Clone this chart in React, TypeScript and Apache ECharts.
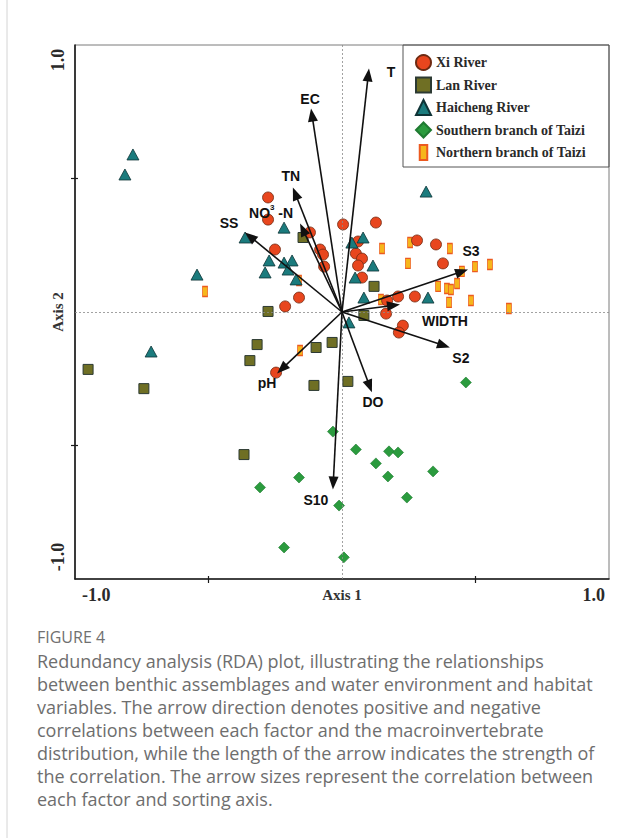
import React, { useEffect, useRef } from "react";
import * as echarts from "echarts";

// ---- Data ----
const xiX = [-0.277, -0.277, -0.12, -0.251, -0.082, -0.071, -0.067, -0.161, -0.213, 0.004, 0.127, 0.281, 0.352, 0.06, 0.052, 0.075, 0.06, 0.075, 0.378, 0.169, 0.21, 0.273, 0.165, 0.228, 0.213, -0.247];
const xiY = [0.429, 0.346, 0.298, 0.234, 0.234, 0.215, 0.17, 0.054, 0.021, 0.328, 0.335, 0.268, 0.253, 0.264, 0.219, 0.2, 0.174, 0.129, 0.182, 0.043, 0.058, 0.058, -0.006, -0.051, -0.077, -0.227];

const lanX = [-0.146, -0.277, 0.12, 0.082, -0.318, -0.345, -0.097, -0.037, -0.105, 0.022, -0.951, -0.742, -0.367];
const lanY = [0.279, 0.002, 0.096, -0.013, -0.122, -0.182, -0.133, -0.114, -0.275, -0.26, -0.215, -0.287, -0.534];

const haiX = [-0.783, -0.813, -0.543, -0.715, -0.217, -0.363, -0.273, -0.217, -0.187, -0.288, -0.202, -0.172, 0.315, 0.037, 0.079, 0.116, 0.049, 0.082, 0.322, 0.026];
const haiY = [0.59, 0.515, 0.14, -0.148, 0.316, 0.279, 0.193, 0.185, 0.193, 0.148, 0.159, 0.122, 0.451, 0.26, 0.279, 0.174, 0.129, 0.054, 0.054, -0.039];

const southX = [-0.034, 0.052, 0.176, 0.21, 0.127, -0.161, 0.172, 0.341, -0.307, 0.243, -0.011, -0.217, 0.007, 0.464];
const southY = [-0.448, -0.515, -0.522, -0.526, -0.567, -0.62, -0.616, -0.597, -0.657, -0.695, -0.725, -0.882, -0.919, -0.264];

const northX = [0.15, 0.255, 0.404, 0.247, 0.449, 0.498, 0.554, 0.36, 0.393, 0.408, 0.431, 0.146, 0.401, 0.483, 0.625, -0.161, -0.513, -0.157];
const northY = [0.238, 0.26, 0.238, 0.182, 0.152, 0.17, 0.178, 0.096, 0.088, 0.084, 0.107, 0.047, 0.036, 0.043, 0.013, 0.118, 0.077, -0.144];

const arrowNames = ["T", "EC", "TN", "NO3-N", "SS", "S3", "WIDTH", "S2", "DO", "S10", "pH"];
const arrowX = [0.101, -0.116, -0.184, -0.157, -0.363, 0.472, 0.217, 0.404, 0.112, -0.034, -0.243];
const arrowY = [0.912, 0.762, 0.466, 0.331, 0.298, 0.159, 0.028, -0.133, -0.301, -0.665, -0.23];

const seriesNames = ["Xi River", "Lan River", "Haicheng River", "Southern branch of Taizi", "Northern branch of Taizi"];
const xTickLabels = ["-1.0", "1.0"];
const yTickLabels = ["-1.0", "1.0"];
const axisNames = ["Axis 1", "Axis 2"];

const captionTitle = "FIGURE 4";
const captionLines = [
  "Redundancy analysis (RDA) plot, illustrating the relationships",
  "between benthic assemblages and water environment and habitat",
  "variables. The arrow direction denotes positive and negative",
  "correlations between each factor and the macroinvertebrate",
  "distribution, while the length of the arrow indicates the strength of",
  "the correlation. The arrow sizes represent the correlation between",
  "each factor and sorting axis.",
];

// ---- Styles ----
const labelOffsets: Record<string, [number, number]> = {
  T: [22, 4],
  EC: [-1, -10],
  TN: [-2, -12],
  "NO3-N": [-29, -12],
  SS: [-16, -9],
  S3: [3, -19],
  WIDTH: [45, 16],
  S2: [11, 10],
  DO: [1, 10],
  S10: [-17, 10],
  pH: [-10, 10],
};

const zip = (xs: number[], ys: number[]) => xs.map((x, i) => [x, ys[i]]);

const SERIF = "'Liberation Serif', 'Times New Roman', serif";
const SANS = "'Liberation Sans', Arial, sans-serif";

export default function App() {
  const ref = useRef<HTMLDivElement>(null);
  useEffect(() => {
    if (!ref.current) return;
    const chart = echarts.init(ref.current, null, { renderer: "svg" });

    const arrowData = arrowX.map((x, i) => [x, arrowY[i]]);

    const option: any = {
      animation: false,
      backgroundColor: "#ffffff",
      grid: {
        left: 75,
        top: 45,
        width: 534,
        height: 534,
        show: true,
        borderColor: "#7a7a7a",
        borderWidth: 1,
        backgroundColor: "transparent",
      },
      legend: {
        orient: "vertical",
        left: 415,
        top: 54,
        padding: 0,
        itemWidth: 15,
        itemHeight: 15,
        itemGap: 5.5,
        selectedMode: false,
        textStyle: { fontFamily: SERIF, fontWeight: "bold", fontSize: 14, color: "#2a2a2a", lineHeight: 15, height: 15 },
        data: [
          { name: seriesNames[0] },
          { name: seriesNames[1] },
          { name: seriesNames[2] },
          { name: seriesNames[3] },
          { name: seriesNames[4], icon: "path://M0,0h1v2h-1z" },
        ],
      },
      xAxis: [
        {
          type: "value",
          min: -1,
          max: 1,
          interval: 0.5,
          splitLine: { show: false },
          axisLine: { onZero: false, lineStyle: { color: "#1a1a1a", width: 1.6 } },
          axisTick: { show: true, customValues: [-0.5, 0.5], length: 4, lineStyle: { color: "#1a1a1a", width: 1.2 } },
          axisLabel: { show: false },
          name: axisNames[0],
          nameLocation: "middle",
          nameGap: 8,
          nameTextStyle: { fontFamily: SERIF, fontWeight: "bold", fontSize: 15, color: "#333", verticalAlign: "top" },
        },
        {
          type: "value",
          min: -1,
          max: 1,
          interval: 0.5,
          position: "bottom",
          splitLine: { show: false },
          axisLine: { show: false, onZero: false },
          axisTick: { show: true, inside: true, customValues: [-0.5, 0.5], length: 3, lineStyle: { color: "#1a1a1a", width: 1.2 } },
          axisLabel: { show: false },
        },
      ],
      yAxis: [
        {
          type: "value",
          min: -1,
          max: 1,
          interval: 0.5,
          splitLine: { show: false },
          axisLine: { onZero: false, lineStyle: { color: "#1a1a1a", width: 1.6 } },
          axisTick: { show: true, customValues: [-0.5, 0.5], length: 4, lineStyle: { color: "#1a1a1a", width: 1.2 } },
          axisLabel: { show: false },
          name: axisNames[1],
          nameLocation: "middle",
          nameRotate: 90,
          nameGap: 9.5,
          nameTextStyle: { fontFamily: SERIF, fontWeight: "bold", fontSize: 15, color: "#333" },
        },
        {
          type: "value",
          min: -1,
          max: 1,
          interval: 0.5,
          position: "left",
          splitLine: { show: false },
          axisLine: { show: false, onZero: false },
          axisTick: { show: true, inside: true, customValues: [-0.5, 0.5], length: 3, lineStyle: { color: "#1a1a1a", width: 1.2 } },
          axisLabel: { show: false },
        },
      ],
      series: [
        {
          type: "scatter",
          name: "zero",
          data: [],
          z: 1,
          silent: true,
          markLine: {
            silent: true,
            symbol: "none",
            label: { show: false },
            lineStyle: { color: "#8a8a8a", width: 0.8, type: [2, 2] },
            data: [{ xAxis: 0 }, { yAxis: 0 }],
          },
        },
        {
          type: "scatter",
          name: seriesNames[4],
          data: zip(northX, northY),
          symbol: "rect",
          symbolSize: [5, 10],
          z: 2,
          itemStyle: { color: "#f6b61b", borderColor: "#ec5a20", borderWidth: 1, opacity: 1 },
        },
        {
          type: "scatter",
          name: seriesNames[3],
          data: zip(southX, southY),
          symbol: "diamond",
          symbolSize: 11,
          z: 2,
          itemStyle: { color: "#2b9b3e", borderColor: "#1f7a31", borderWidth: 0.6, opacity: 1 },
        },
        {
          type: "scatter",
          name: seriesNames[1],
          data: zip(lanX, lanY),
          symbol: "rect",
          symbolSize: 10,
          z: 3,
          itemStyle: { color: "#6f6f24", borderColor: "#2c3a33", borderWidth: 1, opacity: 1 },
        },
        {
          type: "scatter",
          name: seriesNames[0],
          data: zip(xiX, xiY),
          symbol: "circle",
          symbolSize: 11,
          z: 3,
          itemStyle: { color: "#e8461e", borderColor: "#6e2a12", borderWidth: 0.8, opacity: 1 },
        },
        {
          type: "scatter",
          name: seriesNames[2],
          data: zip(haiX, haiY),
          symbol: "triangle",
          symbolSize: [12, 11],
          z: 4,
          itemStyle: { color: "#1b7b7d", borderColor: "#0e3336", borderWidth: 0.8, opacity: 1 },
        },
        {
          type: "custom",
          name: "arrows",
          z: 5,
          silent: true,
          data: arrowData,
          encode: { x: 0, y: 1 },
          renderItem: (params: any, api: any) => {
            const idx = params.dataIndex;
            const x = api.value(0);
            const y = api.value(1);
            const o = api.coord([0, 0]);
            const t = api.coord([x, y]);
            const dx = t[0] - o[0];
            const dy = t[1] - o[1];
            const len = Math.hypot(dx, dy) || 1;
            const ux = dx / len;
            const uy = dy / len;
            const nx = -uy;
            const ny = ux;
            const L = 13;
            const W = 5;
            const bx = t[0] - ux * L;
            const by = t[1] - uy * L;
            const name = arrowNames[idx];
            const off = labelOffsets[name] || [0, 0];
            const isNO3 = name === "NO3-N";
            const textStyle: any = isNO3
              ? {
                  text: "{a|NO}{s|3}{a| -N}",
                  rich: {
                    a: { fontFamily: SANS, fontWeight: "bold", fontSize: 14, fill: "#111", lineHeight: 16, verticalAlign: "bottom" },
                    s: { fontFamily: SANS, fontWeight: "bold", fontSize: 8, fill: "#111", lineHeight: 16, verticalAlign: "top" },
                  },
                  align: "center",
                  verticalAlign: "middle",
                }
              : {
                  text: name,
                  fontFamily: SANS,
                  fontWeight: "bold",
                  fontSize: 14,
                  fill: "#111",
                  align: "center",
                  verticalAlign: "middle",
                };
            return {
              type: "group",
              children: [
                {
                  type: "line",
                  shape: { x1: o[0], y1: o[1], x2: bx + ux * 2, y2: by + uy * 2 },
                  style: { stroke: "#111", lineWidth: 1.6 },
                },
                {
                  type: "polygon",
                  shape: { points: [[t[0], t[1]], [bx + nx * W, by + ny * W], [bx - nx * W, by - ny * W]] },
                  style: { fill: "#111" },
                },
                {
                  type: "text",
                  x: t[0] + off[0],
                  y: t[1] + off[1],
                  style: textStyle,
                },
              ],
            };
          },
        },
      ],
    };

    chart.setOption(option);

    const pMin = chart.convertToPixel({ gridIndex: 0 }, [-1, -1]) as number[];
    const pMax = chart.convertToPixel({ gridIndex: 0 }, [1, 1]) as number[];
    const tickFont = { fontFamily: SERIF, fontWeight: "bold", fontSize: 18, fill: "#2a2a2a" };

    chart.setOption({
      graphic: [
        {
          type: "line",
          shape: { x1: 7, y1: 0, x2: 7, y2: 838 },
          style: { stroke: "#d4d4d4", lineWidth: 1 },
          silent: true,
        },
        {
          type: "rect",
          shape: { x: pMax[0] - 206, y: pMax[1], width: 206, height: 122 },
          style: { fill: "none", stroke: "#555", lineWidth: 1 },
          z: 10,
          silent: true,
        },
        {
          type: "text",
          x: pMin[0] + 7,
          y: pMin[1] + 16,
          style: { text: xTickLabels[0], ...tickFont, align: "left", verticalAlign: "middle" },
          silent: true,
        },
        {
          type: "text",
          x: pMax[0] - 4,
          y: pMin[1] + 16,
          style: { text: xTickLabels[1], ...tickFont, align: "right", verticalAlign: "middle" },
          silent: true,
        },
        {
          type: "text",
          x: pMin[0] - 17,
          y: pMin[1] - 22,
          rotation: Math.PI / 2,
          style: { text: yTickLabels[0], ...tickFont, align: "center", verticalAlign: "middle" },
          silent: true,
        },
        {
          type: "text",
          x: pMin[0] - 17,
          y: pMax[1] + 15,
          rotation: Math.PI / 2,
          style: { text: yTickLabels[1], ...tickFont, align: "center", verticalAlign: "middle" },
          silent: true,
        },
        {
          type: "text",
          x: 37,
          y: 637,
          style: { text: captionTitle, fontFamily: "'Open Sans', sans-serif", fontSize: 16, fill: "#707070", align: "left", verticalAlign: "middle" },
          silent: true,
        },
        {
          type: "text",
          x: 37,
          y: 649.5,
          style: {
            text: captionLines.join("\n"),
            fontFamily: "'Open Sans', sans-serif",
            fontSize: 18,
            lineHeight: 23,
            fill: "#6e6e6e",
            align: "left",
            verticalAlign: "top",
          },
          silent: true,
        },
      ],
    });

    return () => chart.dispose();
  }, []);

  return (
    <div
      ref={ref}
      style={{ position: "absolute", left: 0, top: 0, width: 641, height: 838 }}
    />
  );
}
